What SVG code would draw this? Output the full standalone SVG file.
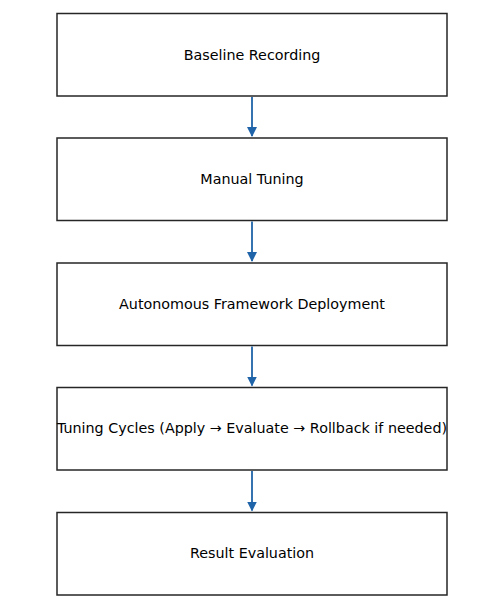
<svg xmlns="http://www.w3.org/2000/svg" width="504" height="612" viewBox="0 0 504 612">
<style>
.box{fill:#fff;stroke:#262626;stroke-width:1.5}
.lbl{font-family:"DejaVu Sans",sans-serif;font-size:14.3px;fill:#000;text-anchor:middle;dominant-baseline:central}
.edge{stroke:#1f63a8;stroke-width:1.8;fill:none}
</style>
<defs>
<marker id="ah" markerWidth="10" markerHeight="10" refX="9" refY="5" orient="auto" markerUnits="userSpaceOnUse">
<path d="M0,0 L10,5 L0,10 Z" fill="#1f63a8"/>
</marker>
</defs>
<rect width="504" height="612" fill="#fff"/>
<g id="n1"><rect class="box" x="57" y="13.5" width="390" height="82.5"/><text class="lbl" x="252" y="54.5">Baseline Recording</text></g>
<g id="n2"><rect class="box" x="57" y="138" width="390" height="82.5"/><text class="lbl" x="252" y="179">Manual Tuning</text></g>
<g id="n3"><rect class="box" x="57" y="263" width="390" height="82.5"/><text class="lbl" x="252" y="303.5">Autonomous Framework Deployment</text></g>
<g id="n4"><rect class="box" x="57" y="387.5" width="390" height="82.5"/><text class="lbl" x="252" y="428">Tuning Cycles (Apply → Evaluate → Rollback if needed)</text></g>
<g id="n5"><rect class="box" x="57" y="512.5" width="390" height="82.5"/><text class="lbl" x="252" y="553">Result Evaluation</text></g>
<g id="edges">
<line class="edge" x1="252" y1="97" x2="252" y2="136" marker-end="url(#ah)"/>
<line class="edge" x1="252" y1="221.5" x2="252" y2="261" marker-end="url(#ah)"/>
<line class="edge" x1="252" y1="346.5" x2="252" y2="385.5" marker-end="url(#ah)"/>
<line class="edge" x1="252" y1="471" x2="252" y2="510.5" marker-end="url(#ah)"/>
</g>
</svg>
